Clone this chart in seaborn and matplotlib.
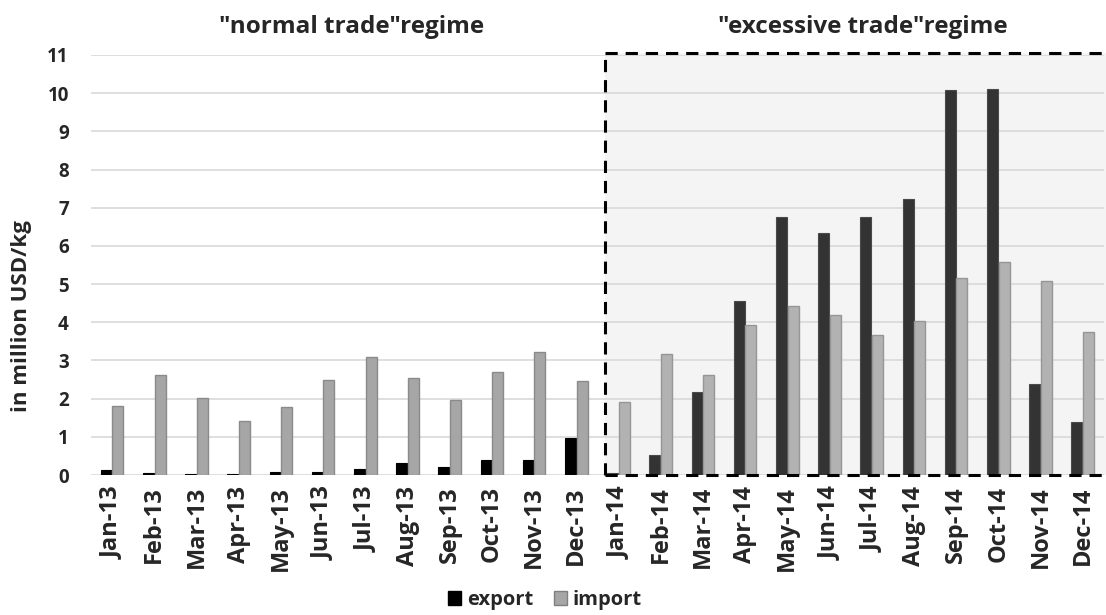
import matplotlib
matplotlib.use("Agg")
import matplotlib.pyplot as plt
from matplotlib.patches import Patch
import seaborn as sns
import pandas as pd

# Monthly values, in million USD/kg
months = ["Jan-13", "Feb-13", "Mar-13", "Apr-13", "May-13", "Jun-13",
          "Jul-13", "Aug-13", "Sep-13", "Oct-13", "Nov-13", "Dec-13",
          "Jan-14", "Feb-14", "Mar-14", "Apr-14", "May-14", "Jun-14",
          "Jul-14", "Aug-14", "Sep-14", "Oct-14", "Nov-14", "Dec-14"]
export_vals = [0.12, 0.04, 0.03, 0.03, 0.08, 0.07, 0.16, 0.31, 0.21, 0.39, 0.39, 0.96,
               0.06, 0.52, 2.17, 4.55, 6.75, 6.33, 6.75, 7.22, 10.07, 10.12, 2.38, 1.40]
import_vals = [1.80, 2.62, 2.02, 1.42, 1.77, 2.48, 3.10, 2.55, 1.97, 2.70, 3.22, 2.45,
               1.90, 3.18, 2.63, 3.93, 4.42, 4.18, 3.67, 4.03, 5.15, 5.58, 5.08, 3.75]
series_names = ["export", "import"]
regime_titles = ['"normal trade"regime', '"excessive trade"regime']
y_ticks = list(range(0, 12))

df = pd.DataFrame({
    "month": months * 2,
    "value": export_vals + import_vals,
    "series": [series_names[0]] * len(months) + [series_names[1]] * len(months),
})

sns.set_theme(style="white")
plt.rcParams["font.family"] = ["Open Sans", "DejaVu Sans"]
plt.rcParams["font.weight"] = "bold"

fig = plt.figure(figsize=(11.06, 6.15), dpi=100)
ax = fig.add_axes([0.0823, 0.2276, 0.9157, 0.683])

sns.barplot(data=df, x="month", y="value", hue="series", order=months,
            hue_order=series_names, palette=["#000000", "#a6a6a6"],
            width=0.55, gap=0.05, legend=False, ax=ax, zorder=3)

# Colours per regime: first year solid black / mid grey, second year softer tones
n = len(months)
exp_bars = ax.patches[:n]
imp_bars = ax.patches[n:2 * n]
for i, (eb, ib) in enumerate(zip(exp_bars, imp_bars)):
    if i < 12:
        eb.set_facecolor("#000000")
        eb.set_edgecolor("#000000")
        ib.set_facecolor("#a6a6a6")
        ib.set_edgecolor("#8a8a8a")
    else:
        eb.set_facecolor("#333333")
        eb.set_edgecolor("#4a4a4a")
        ib.set_facecolor("#b2b2b2")
        ib.set_edgecolor("#969696")
    eb.set_linewidth(0.8)
    ib.set_linewidth(1.0)

ax.set_xlim(-0.5, n - 0.5)
ax.set_ylim(0, 11)
ax.set_yticks(y_ticks)
ax.set_yticklabels([str(t) for t in y_ticks], fontsize=13.5, fontweight="bold")
ax.set_xticks(range(n))
ax.set_xticklabels(months, rotation=90, fontsize=17, fontweight="bold")
ax.tick_params(axis="y", length=0, pad=16)
ax.tick_params(axis="x", length=0, pad=8)
ax.set_xlabel("")
ax.set_ylabel("")
for s in ax.spines.values():
    s.set_visible(False)

ax.set_axisbelow(True)
ax.yaxis.grid(True, color="#d9d9d9", linewidth=1.2)
ax.xaxis.grid(False)

# Shaded "excessive trade" window with dashed outline
x0 = 11.68
top = 11.06
ax.fill_between([x0, n - 0.5 + 0.1], 0, top, color="#f4f4f4", zorder=0.2,
                clip_on=False, linewidth=0)
dash = (0, (4, 2.6))
ax.plot([x0, x0], [0, top], color="black", lw=2.2, linestyle=dash,
        clip_on=False, zorder=4)
ax.plot([x0, n - 0.5 + 0.1], [top, top], color="black", lw=2.2, linestyle=dash,
        clip_on=False, zorder=4)
ax.plot([x0, n - 0.5 + 0.1], [0, 0], color="black", lw=2.2, linestyle=dash,
        clip_on=False, zorder=4)

# Regime titles
fig.text(352 / 1106, 1 - 27 / 615, regime_titles[0], ha="center", va="center",
         fontsize=17.5, fontweight="bold")
fig.text(863 / 1106, 1 - 27 / 615, regime_titles[1], ha="center", va="center",
         fontsize=17.5, fontweight="bold")

# Axis title
fig.text(22 / 1106, 1 - 316 / 615, "in million USD/kg", rotation=90,
         ha="center", va="center", fontsize=16, fontweight="bold")

# Legend
handles = [Patch(facecolor="#000000", edgecolor="#000000", label=series_names[0]),
           Patch(facecolor="#a6a6a6", edgecolor="#7f7f7f", label=series_names[1])]
fig.legend(handles=handles, loc="center", bbox_to_anchor=(545 / 1106, 1 - 600 / 615),
           ncol=2, frameon=False, handlelength=0.65, handleheight=0.65,
           handletextpad=0.3, columnspacing=1.0, prop={"weight": "bold", "size": 14.5})

fig.savefig("out.png", dpi=100)
